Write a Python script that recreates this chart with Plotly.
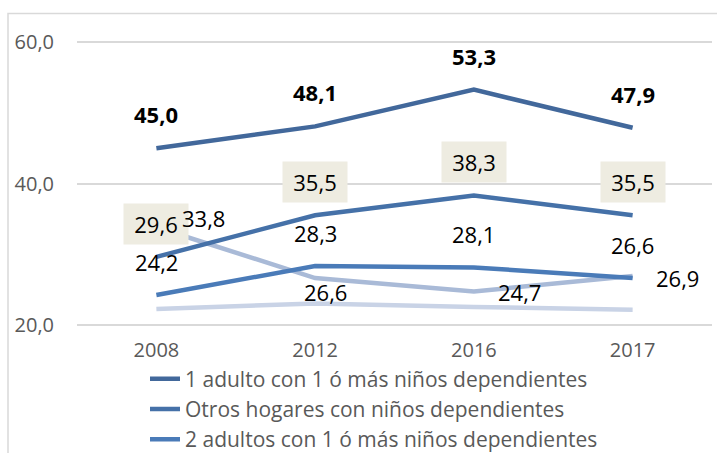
import plotly.graph_objects as go

years = ["2008", "2012", "2016", "2017"]
names = [
    "1 adulto con 1 ó más niños dependientes",
    "Otros hogares con niños dependientes",
    "2 adultos con 1 ó más niños dependientes",
    "Serie 4",
    "Serie 5",
]
s1 = [45.0, 48.1, 53.3, 47.9]
s2 = [29.6, 35.5, 38.3, 35.5]
s3 = [24.2, 28.3, 28.1, 26.6]
s4 = [33.8, 26.6, 24.7, 26.9]
s5 = [22.2, 23.0, 22.5, 22.1]
series = [s1, s2, s3, s4, s5]
colors = ["#42689b", "#4571a8", "#4a7bb8", "#a9bad7", "#c9d3e6"]
show_leg = [True, True, True, False, False]

FONT = "Open Sans"
GRAY = "#595959"
LBL = 22

# pixel layout (y=60 at 42px, y=20 at 325px), range padded so edge gridlines render
Y0, Y1 = 19.8, 60.2
ppu = (325 - 42) / 40.0
top = 42 - (Y1 - 60) * ppu
bottom_px = 325 + (20 - Y0) * ppu
plot_h = bottom_px - top

fig = go.Figure()
for i in [4, 3, 2, 1, 0]:
    fig.add_trace(go.Scatter(
        x=years, y=series[i], mode="lines", name=names[i],
        line=dict(color=colors[i], width=4.5),
        showlegend=show_leg[i], legendrank=i + 1, legendgroup=f"g{i}",
        hoverinfo="skip",
    ))

def fmt(v):
    return f"{v:.1f}".replace(".", ",")

ann = []
base = dict(xref="x", yref="y", showarrow=False)
for xi, v in enumerate(s1):
    ann.append(dict(base, x=xi, y=v, text=f"<b>{fmt(v)}</b>", yshift=34,
                    font=dict(size=LBL, color="black", family=FONT)))
for xi, v in enumerate(s2):
    ann.append(dict(base, x=xi, y=v, text=fmt(v), yshift=33,
                    bgcolor="#eeece1", borderpad=2, width=60, height=36,
                    font=dict(size=LBL, color="black", family=FONT)))
for xi, v in enumerate(s3):
    ann.append(dict(base, x=xi, y=v, text=fmt(v), yshift=33,
                    font=dict(size=LBL, color="black", family=FONT)))
s4_shift = [(47, 9), (10, -14), (46, -1), (45, -2)]
for xi, (v, (dx, dy)) in enumerate(zip(s4, s4_shift)):
    ann.append(dict(base, x=xi, y=v, text=fmt(v), xshift=dx, yshift=dy,
                    font=dict(size=LBL, color="black", family=FONT)))

fig.update_layout(
    width=717, height=453,
    margin=dict(l=77, r=5, t=top, b=453 - bottom_px, autoexpand=False),
    paper_bgcolor="white", plot_bgcolor="white",
    font=dict(family=FONT, color=GRAY),
    separators=",.",
    hovermode=False,
    xaxis=dict(type="category", categoryorder="array", categoryarray=years,
               range=[-0.5, 3.5], showgrid=False, showline=False, zeroline=False,
               tickfont=dict(size=20, color=GRAY, family=FONT), ticklabelstandoff=10),
    yaxis=dict(range=[Y0, Y1], tickvals=[20, 40, 60], ticktext=["20,0", "40,0", "60,0"],
               showgrid=True, gridcolor="#d9d9d9", gridwidth=1.5, zeroline=False,
               showline=False, tickfont=dict(size=20, color=GRAY, family=FONT),
               ticklabelstandoff=22),
    legend=dict(x=(145 - 77) / 635, xanchor="left", y=-(359 - bottom_px) / plot_h,
                yanchor="top",
                font=dict(size=21, color=GRAY, family=FONT), traceorder="grouped",
                tracegroupgap=0, bgcolor="rgba(0,0,0,0)", itemwidth=30),
    annotations=ann,
    shapes=[dict(type="rect", xref="paper", yref="paper",
                 x0=(8 - 77) / 635, x1=1.2, y0=-0.6, y1=(bottom_px - 13) / plot_h,
                 line=dict(color="#d9d9d9", width=1.5), fillcolor="rgba(0,0,0,0)",
                 layer="below")],
)

fig.write_html("out.html", config={"displayModeBar": False},
               post_script="document.body.style.margin='0';")
